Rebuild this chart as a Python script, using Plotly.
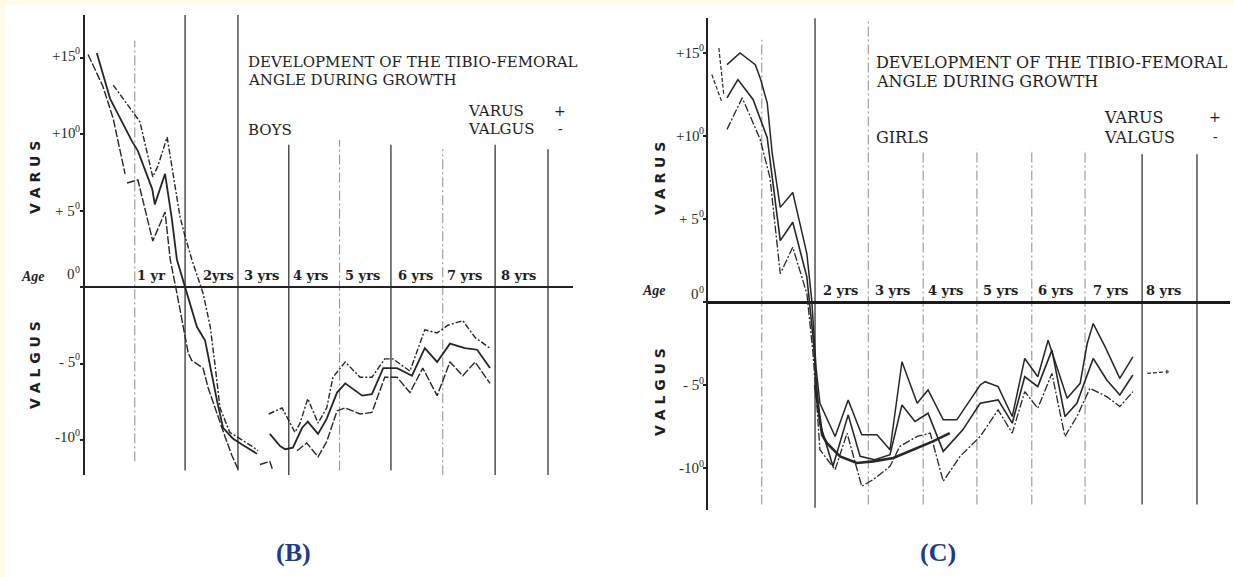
import plotly.graph_objects as go

W, H = 1234, 577


def px(x):
    return x / W


def py(y):
    return 1 - y / H


# ---------------- DATA (x = position on age grid, y = degrees) ----------------
# BOYS
boys_upper_x = [0.55, 0.94, 1.07, 1.32, 1.42, 1.60, 1.75, 1.85, 1.95, 2.08, 2.30, 2.44, 2.53, 2.63, 2.82,
                3.02, 3.25, 3.37, None, 3.58, 3.84, 3.95, 4.09, 4.19, 4.34, 4.54, 4.71, 4.83, 5.07, 5.36,
                5.59, 5.84, 6.00, 6.33, 6.62, 6.86, 7.07, 7.36, 7.60, 7.89]
boys_upper_y = [13.2, 11.4, 10.8, 7.2, 7.9, 9.8, 6.8, 4.6, 3.3, 1.8, -0.4, -2.6, -5.0, -7.9, -9.5,
                -9.9, -10.4, -10.7, None, -8.3, -7.9, -8.6, -9.5, -8.9, -7.3, -8.9, -7.9, -5.9, -4.9, -5.9,
                -5.9, -4.7, -4.7, -5.5, -2.8, -3.0, -2.5, -2.2, -3.3, -4.0]

boys_mid_x = [0.23, 0.49, 0.92, 1.03, 1.31, 1.36, 1.56, 1.69, 1.79, 1.95, 2.18, 2.34, 2.44, 2.57, 2.69,
              2.88, 3.06, 3.25, 3.35, None, 3.60, 3.80, 3.90, 4.05, 4.23, 4.34, 4.54, 4.71, 4.91, 5.07,
              5.40, 5.59, 5.81, 6.08, 6.37, 6.62, 6.86, 7.11, 7.40, 7.64, 7.89]
boys_mid_y = [15.3, 12.3, 9.5, 8.9, 6.4, 5.4, 7.4, 4.5, 1.8, 0.0, -2.6, -3.5, -5.3, -7.4, -9.2,
              -9.9, -10.3, -10.7, -10.9, None, -9.6, -10.4, -10.6, -10.5, -9.2, -8.8, -9.6, -8.6, -6.9, -6.3,
              -7.1, -7.0, -5.3, -5.3, -5.8, -4.0, -4.9, -3.7, -4.0, -4.1, -5.3]

boys_low_x = [0.06, 0.35, 0.55, 0.78, None, 0.82, 1.03, 1.27, 1.32, 1.56, 1.66, 1.79, 1.91, 2.01, 2.08,
              2.30, 2.40, 2.57, 2.73, 2.86, 2.98, None, 3.41, 3.60, 3.66, None, 4.13, 4.32, 4.54, 4.71,
              4.91, 5.07, 5.36, 5.59, 5.84, 6.08, 6.33, 6.58, 6.86, 7.11, 7.36, 7.60, 7.89]
boys_low_y = [15.2, 13.1, 11.0, 7.4, None, 6.8, 7.0, 3.7, 3.0, 4.9, 1.8, -0.4, -2.6, -4.3, -4.8,
              -5.3, -6.6, -8.3, -9.8, -11.0, -11.9, None, -11.6, -11.4, -12.0, None, -10.7, -10.2, -11.1, -10.1,
              -8.1, -7.9, -8.3, -8.2, -5.9, -5.9, -6.9, -5.3, -7.1, -4.9, -5.8, -4.9, -6.3]

# GIRLS
girls_upper_x = [0.35, 0.59, 0.87, 0.96, 1.09, 1.18, 1.33, 1.56, 1.82, 1.91, 1.99, 2.06, 2.34, 2.58, 2.83,
                 3.11, 3.35, 3.57, 3.85, 4.05, 4.33, 4.58, 5.01, 5.10, 5.34, 5.60, 5.83, 6.07, 6.26, 6.61,
                 6.85, 6.98, 7.09, 7.31, 7.58, 7.82]
girls_upper_y = [14.3, 15.0, 14.3, 13.5, 12.0, 9.0, 5.7, 6.6, 2.9, 0.1, -4.0, -6.1, -8.1, -5.9, -8.0,
                 -8.0, -8.9, -3.6, -6.1, -5.3, -7.1, -7.1, -5.0, -4.8, -5.1, -6.9, -3.4, -4.5, -2.3, -5.8,
                 -4.9, -2.5, -1.3, -2.7, -4.6, -3.3]

girls_mid_x = [0.35, 0.55, 0.83, 1.09, 1.33, 1.56, 1.82, 1.93, 2.01, 2.06, 2.30, 2.58, 2.80, 3.07, 3.35,
               3.57, 3.81, 4.05, 4.33, 4.69, 5.01, 5.34, 5.60, 5.83, 6.07, 6.33, 6.57, 6.79, 7.09, 7.34,
               7.58, 7.82]
girls_mid_y = [12.3, 13.4, 12.2, 9.9, 3.7, 4.8, 1.5, -2.0, -5.5, -7.3, -9.9, -6.8, -9.3, -9.5, -9.2,
               -6.2, -7.2, -6.7, -9.0, -7.7, -6.1, -5.9, -7.3, -4.5, -5.1, -2.9, -6.9, -6.1, -3.4, -4.7,
               -5.6, -4.4]

girls_low_x = [0.35, 0.63, 0.96, 1.14, 1.33, 1.56, 1.82, 1.93, 2.01, 2.06, 2.34, 2.56, 2.83, 3.04, 3.35,
               3.53, 3.85, 4.09, 4.33, 4.64, 5.01, 5.34, 5.60, 5.83, 6.07, 6.33, 6.57, 6.79, 7.03, 7.34,
               7.58, 7.82]
girls_low_y = [10.4, 12.3, 9.8, 7.5, 1.7, 3.3, 0.5, -3.0, -6.5, -8.9, -10.1, -7.9, -11.1, -10.7, -9.9,
               -8.7, -8.1, -7.9, -10.8, -9.3, -8.1, -6.5, -7.9, -5.4, -6.4, -4.3, -8.1, -6.9, -5.2, -5.7,
               -6.3, -5.4]

girls_frag_x = [0.07, 0.26, None, 0.20, 0.29]
girls_frag_y = [13.7, 12.0, None, 15.3, 12.5]

girls_smooth_x = [1.97, 2.10, 2.19, 2.43, 2.74, 3.04, 3.41, 3.77, 4.14, 4.45]
girls_smooth_y = [-5.0, -8.0, -8.5, -9.3, -9.7, -9.6, -9.4, -8.9, -8.4, -7.9]

girls_arrow_x = [8.08, 8.45]
girls_arrow_y = [-4.3, -4.2]

# Grid (age division lines)
boys_grid_x = [0.97, 1.95, 2.98, 3.97, 4.96, 5.96, 6.97, 7.99, 9.02]
boys_grid_top = [16.1, 17.8, 17.8, 9.3, 9.6, 9.3, 9.0, 9.3, 9.0]
boys_grid_bottom = [-11.4, -12.0, -12.0, -12.3, -12.0, -12.0, -12.3, -12.3, -12.3]
boys_grid_style = ["faint", "solid", "solid", "solid", "faint", "solid", "faint", "solid", "solid"]

girls_grid_x = [0.99, 1.97, 2.95, 3.96, 4.95, 5.96, 6.94, 7.99, 9.00]
girls_grid_top = [15.8, 17.1, 17.0, 9.2, 9.2, 9.2, 9.2, 8.9, 8.9]
girls_grid_bottom = [-12.2, -12.4, -12.2, -12.2, -12.2, -12.2, -12.2, -12.2, -12.2]
girls_grid_style = ["faint", "solid", "faint", "faint", "faint", "faint", "faint", "solid", "solid"]

# Labels
boys_age_labels = ["1 yr", "2yrs", "3 yrs", "4 yrs", "5 yrs", "6 yrs", "7 yrs", "8 yrs"]
boys_age_label_x = [1.29, 2.60, 3.44, 4.40, 5.40, 6.43, 7.40, 8.45]
girls_age_labels = ["2 yrs", "3 yrs", "4 yrs", "5 yrs", "6 yrs", "7 yrs", "8 yrs"]
girls_age_label_x = [2.43, 3.39, 4.38, 5.39, 6.39, 7.40, 8.39]

tick_vals = [15, 10, 5, 0, -5, -10]
tick_texts = ["+15", "+10", "+ 5", "0", "- 5", "-10"]
degree_mark = "0"
boys_tick_shift = [2, 1, 0, 13, 2, 3]
girls_tick_shift = [0, 0, 0, 8, 0, 0]

title_line1 = "DEVELOPMENT OF THE TIBIO-FEMORAL"
title_line2 = "ANGLE DURING GROWTH"

# ---------------- FIGURE ----------------
INK = "#262626"
TXT = "#1e1e1e"
fig = go.Figure()


def add_line(x, y, xa, ya, width=1.5, dash="solid", color=INK):
    fig.add_trace(go.Scatter(x=x, y=y, xaxis=xa, yaxis=ya, mode="lines",
                             line=dict(color=color, width=width, dash=dash),
                             connectgaps=False, hoverinfo="skip", showlegend=False))


add_line(boys_upper_x, boys_upper_y, "x", "y", 1.4, "6px,2px,2px,2px")
add_line(boys_mid_x, boys_mid_y, "x", "y", 1.8)
add_line(boys_low_x, boys_low_y, "x", "y", 1.4, "8px,2px")

add_line(girls_upper_x, girls_upper_y, "x2", "y2", 1.5)
add_line(girls_mid_x, girls_mid_y, "x2", "y2", 1.6)
add_line(girls_low_x, girls_low_y, "x2", "y2", 1.3, "8px,2px,2px,2px")
add_line(girls_frag_x, girls_frag_y, "x2", "y2", 1.2, "4px,2px")
add_line(girls_smooth_x, girls_smooth_y, "x2", "y2", 2.6)
fig.add_trace(go.Scatter(x=girls_arrow_x, y=girls_arrow_y, xaxis="x2", yaxis="y2", mode="lines+markers",
                         line=dict(color=INK, width=1.3, dash="4px,2px"),
                         marker=dict(symbol=["line-ns", "triangle-right"], size=[1, 6], color=INK),
                         hoverinfo="skip", showlegend=False))

shapes = [dict(type="rect", xref="paper", yref="paper", x0=px(6), x1=1.0, y0=0, y1=py(5),
               fillcolor="white", line=dict(width=0), layer="below")]


def grid_shapes(xs, tops, bots, styles, xr, yr):
    out = []
    for gx, t, b, s in zip(xs, tops, bots, styles):
        if s == "solid":
            ln = dict(color="#353535", width=1.3)
        else:
            ln = dict(color="#8a8a8a", width=1.0, dash="10px,3px,2px,3px")
        out.append(dict(type="line", xref=xr, yref=yr, x0=gx, x1=gx, y0=b, y1=t, line=ln, layer="below"))
    return out


shapes += grid_shapes(boys_grid_x, boys_grid_top, boys_grid_bottom, boys_grid_style, "x", "y")
shapes += grid_shapes(girls_grid_x, girls_grid_top, girls_grid_bottom, girls_grid_style, "x2", "y2")

ann = []
SERIF = "DejaVu Serif"
TIMES = "Liberation Serif"

for lab, lx in zip(boys_age_labels, boys_age_label_x):
    ann.append(dict(x=lx, y=0, xref="x", yref="y", text=lab, showarrow=False, yshift=12,
                    font=dict(family=SERIF, size=13, color=TXT, weight="bold")))
for lab, lx in zip(girls_age_labels, girls_age_label_x):
    ann.append(dict(x=lx, y=0, xref="x2", yref="y2", text=lab, showarrow=False, yshift=12,
                    font=dict(family=SERIF, size=13, color=TXT, weight="bold")))


def tick_labels(right_px, yref, shifts):
    for v, t, s in zip(tick_vals, tick_texts, shifts):
        ann.append(dict(x=px(right_px - 6), y=v, xref="paper", yref=yref, text=t, showarrow=False,
                        xanchor="right", yshift=s, font=dict(family=TIMES, size=15, color="#2a2a2a")))
        ann.append(dict(x=px(right_px - 10), y=v, xref="paper", yref=yref, text=degree_mark, showarrow=False,
                        xanchor="left", yshift=s + 5, font=dict(family=TIMES, size=10, color="#2a2a2a")))


tick_labels(83, "y", boys_tick_shift)
tick_labels(707, "y2", girls_tick_shift)


def txt(x, y, t, size=14, family=SERIF, anchor="left", angle=0, weight="normal", style="normal", color=TXT):
    ann.append(dict(x=px(x), y=py(y), xref="paper", yref="paper", text=t, showarrow=False,
                    xanchor=anchor, yanchor="middle", textangle=angle,
                    font=dict(family=family, size=size, color=color, weight=weight, style=style)))


# Boys panel texts
txt(246, 62, title_line1, 15)
txt(246, 80, title_line2, 15)
txt(466, 111, "VARUS", 15)
txt(560, 111, "+", 14, anchor="center")
txt(466, 129, "VALGUS", 15)
txt(560, 129, "-", 14, anchor="center")
txt(246, 130, "BOYS", 15)
txt(33, 276, "Age", 14, family=TIMES, anchor="center", weight="bold", style="italic")
txt(35, 178, "V A R U S", 14, family="DejaVu Sans", anchor="center", angle=-90, weight="bold")
txt(35, 365, "V A L G U S", 14, family="DejaVu Sans", anchor="center", angle=-90, weight="bold")
txt(293, 552, "(B)", 26, family=TIMES, anchor="center", weight="bold", color="#1f3a8a")

# Girls panel texts
txt(874, 63, title_line1, 16)
txt(874, 81, title_line2, 16)
txt(1102, 117, "VARUS", 16)
txt(1215, 117, "+", 14, anchor="center")
txt(1102, 137, "VALGUS", 16)
txt(1215, 137, "-", 14, anchor="center")
txt(874, 137, "GIRLS", 16)
txt(654, 290, "Age", 14, family=TIMES, anchor="center", weight="bold", style="italic")
txt(660, 178, "V A R U S", 14, family="DejaVu Sans", anchor="center", angle=-90, weight="bold")
txt(660, 392, "V A L G U S", 14, family="DejaVu Sans", anchor="center", angle=-90, weight="bold")
txt(938, 552, "(C)", 26, family=TIMES, anchor="center", weight="bold", color="#1f3a8a")

hidden_x = dict(showgrid=False, zeroline=False, showline=False, showticklabels=False, ticks="")

fig.update_layout(
    width=W, height=H, autosize=False,
    margin=dict(l=0, r=0, t=0, b=0),
    paper_bgcolor="#fffae9", plot_bgcolor="rgba(0,0,0,0)",
    showlegend=False,
    xaxis=dict(domain=[px(85), px(573)], range=[0, (573 - 85) / 51.33], anchor="y", **hidden_x),
    yaxis=dict(domain=[py(475), py(15)], range=[(287 - 475) / 15.3, (287 - 15) / 15.3], anchor="x",
               showgrid=False, showticklabels=False, showline=True, linewidth=2.2, linecolor="#222",
               zeroline=True, zerolinewidth=1.6, zerolinecolor="#222",
               ticks="outside", ticklen=3, tickwidth=1.5, tickcolor="#222", tickvals=tick_vals),
    xaxis2=dict(domain=[px(708), px(1230)], range=[0, (1230 - 708) / 54.33], anchor="y2", **hidden_x),
    yaxis2=dict(domain=[py(510), py(18)], range=[(302 - 510) / 16.6, (302 - 18) / 16.6], anchor="x2",
                showgrid=False, showticklabels=False, showline=True, linewidth=2, linecolor="#222",
                zeroline=True, zerolinewidth=3.2, zerolinecolor="#1a1a1a",
                ticks="outside", ticklen=3, tickwidth=1.5, tickcolor="#222", tickvals=tick_vals),
    shapes=shapes,
    annotations=ann,
)

fig.write_html("out.html")
